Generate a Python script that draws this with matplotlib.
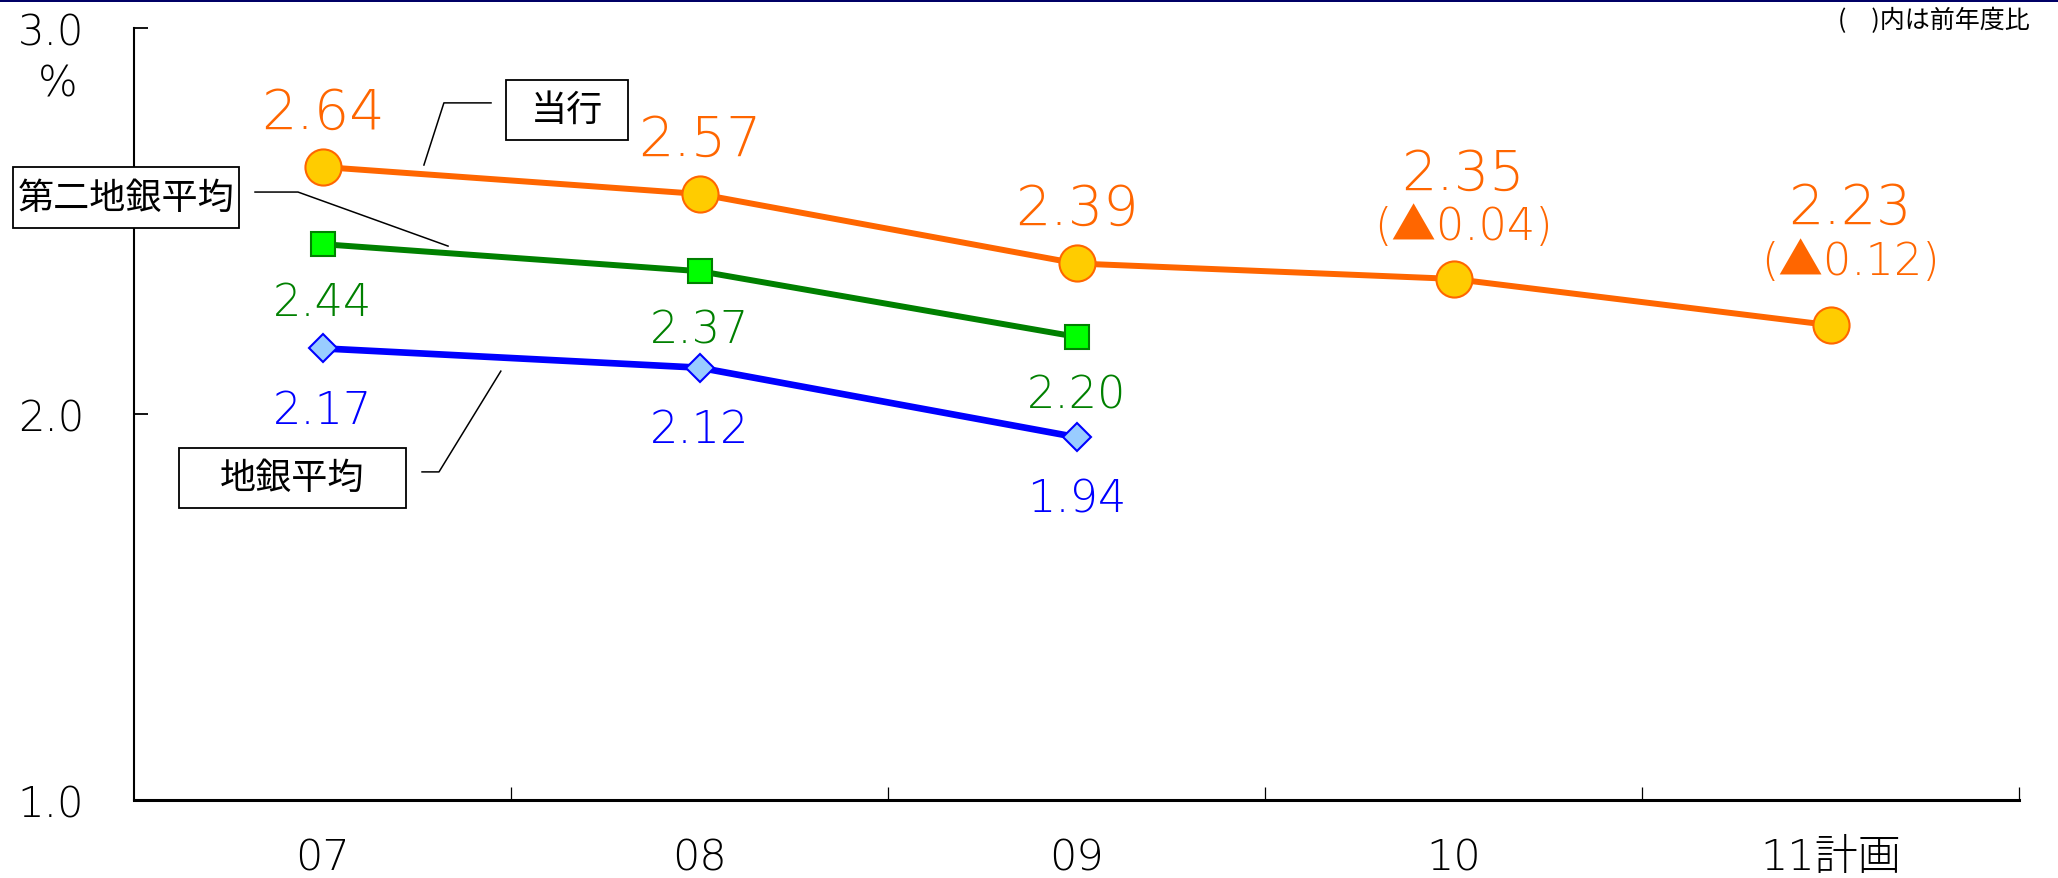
import matplotlib
matplotlib.use("Agg")
import matplotlib.pyplot as plt
from matplotlib.patches import Rectangle
from matplotlib.lines import Line2D

plt.rcParams['font.family'] = ['Noto Sans CJK JP', 'DejaVu Sans']
NUM_FONT = ['DejaVu Sans', 'Noto Sans CJK JP']

# ---- data ----
years = ["07", "08", "09", "10", "11計画"]
own_bank = [2.64, 2.57, 2.39, 2.35, 2.23]
second_tier_avg = [2.44, 2.37, 2.20]
regional_avg = [2.17, 2.12, 1.94]
yoy_change = {3: "(▲0.04)", 4: "(▲0.12)"}
y_ticks = [1.0, 2.0, 3.0]

ORANGE = "#FF6600"
GREEN = "#008000"
BLUE = "#0000FF"

fig = plt.figure(figsize=(20.58, 8.79), dpi=100)
ax = fig.add_axes([134 / 2058, 1 - 801 / 879, 1885 / 2058, 772 / 879])

x_all = list(range(len(years)))

# lines with markers
ax.plot(x_all, own_bank, color=ORANGE, lw=4.3, marker="o", ms=26,
        mfc="#FFCC00", mec=ORANGE, mew=1.5, zorder=5)
ax.plot(x_all[:3], second_tier_avg, color=GREEN, lw=4.3, marker="s", ms=17,
        mfc="#00FF00", mec=GREEN, mew=1.5, zorder=4)
ax.plot(x_all[:3], regional_avg, color=BLUE, lw=4.8, marker="D", ms=14.5,
        mfc="#99CCFF", mec=BLUE, mew=1.5, zorder=4)

# value labels
big = 40
small = 32
num_kw = dict(family=NUM_FONT, fontweight="light", ha="center", va="baseline",
              textcoords="offset points")
for i, v in enumerate(own_bank):
    if i in yoy_change:
        up_main = 65 if i == 3 else 74
        up_sub = 29 if i == 3 else 37
        dx = 7 if i == 3 else 14
        ax.annotate(f"{v:.2f}", (i, v), xytext=(dx, up_main), color=ORANGE,
                    fontsize=big, **num_kw)
        ax.annotate(yoy_change[i], (i, v), xytext=(dx, up_sub), color=ORANGE,
                    fontsize=small, **num_kw)
    else:
        ax.annotate(f"{v:.2f}", (i, v), xytext=(0, 28.5), color=ORANGE,
                    fontsize=big, **num_kw)

for i, v in enumerate(second_tier_avg):
    ax.annotate(f"{v:.2f}", (i, v), xytext=(0, -51), color=GREEN,
                fontsize=small, **num_kw)

for i, v in enumerate(regional_avg):
    ax.annotate(f"{v:.2f}", (i, v), xytext=(0, -53.5), color=BLUE,
                fontsize=small, **num_kw)

# series name boxes with leader lines
def name_box(text, x0, x1, y0, y1, leader_x, leader_y):
    ax.add_patch(Rectangle((x0, y0), x1 - x0, y1 - y0, fill=True, facecolor="white",
                           edgecolor="black", lw=1.3, clip_on=False, zorder=6))
    ax.text((x0 + x1) / 2, (y0 + y1) / 2, text, ha="center", va="center",
            fontsize=26, color="black", zorder=7, clip_on=False)
    ax.add_line(Line2D(leader_x, leader_y, color="black", lw=1.1, clip_on=False, zorder=3))

name_box("当行", 0.487, 0.810, 2.710, 2.865,
         [0.447, 0.322, 0.269], [2.806, 2.806, 2.645])
name_box("第二地銀平均", -0.821, -0.221, 2.482, 2.640,
         [-0.179, -0.065, 0.333], [2.575, 2.575, 2.435])
name_box("地銀平均", -0.381, 0.221, 1.756, 1.912,
         [0.264, 0.309, 0.473], [1.850, 1.850, 2.111])

# axes styling
ax.set_xlim(-0.5, len(years) - 0.5)
ax.set_ylim(1.0, 3.0)
for s in ("top", "right"):
    ax.spines[s].set_visible(False)
ax.spines["left"].set_linewidth(1.5)
ax.spines["bottom"].set_linewidth(2.2)

ax.set_yticks(y_ticks)
ax.set_yticklabels([f"{t:.1f}" for t in y_ticks], fontsize=30, fontweight="light",
                   family=NUM_FONT)
ax.tick_params(axis="y", direction="in", length=10, width=1.3, pad=36)

ax.set_xticks(x_all)
ax.set_xticklabels(years, fontsize=31, fontweight="light", family=NUM_FONT)
ax.set_xticks([i + 0.5 for i in x_all], minor=True)
ax.tick_params(axis="x", which="major", length=0, pad=26)
ax.tick_params(axis="x", which="minor", direction="in", length=9.5, width=0.9)

fig.text(58 / 2058, 1 - 84 / 879, "%", ha="center", va="center", fontsize=30,
         fontweight="light", family=NUM_FONT)
fig.text(2030 / 2058, 1 - 21 / 879, "(\u3000)内は前年度比", ha="right", va="center",
         fontsize=18)

# navy rule across the top edge
fig.add_artist(Rectangle((0, 1 - 2.5 / 879), 1, 2.5 / 879, transform=fig.transFigure,
                         facecolor="#000066", edgecolor="none"))

fig.savefig("out.png", dpi=100)
